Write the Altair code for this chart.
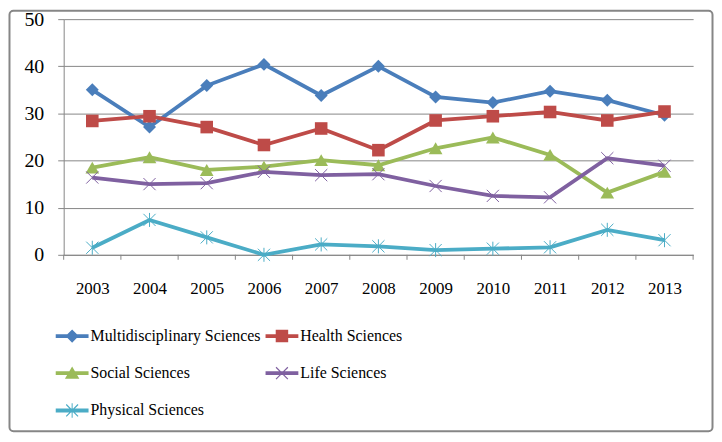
import altair as alt
import pandas as pd

years = [2003, 2004, 2005, 2006, 2007, 2008, 2009, 2010, 2011, 2012, 2013]
series_names = ["Multidisciplinary Sciences", "Health Sciences", "Social Sciences",
                "Life Sciences", "Physical Sciences"]
multidisciplinary = [35.0, 27.1, 35.9, 40.4, 33.8, 40.0, 33.5, 32.3, 34.7, 32.8, 29.6]
health = [28.4, 29.4, 27.1, 23.3, 26.8, 22.2, 28.5, 29.4, 30.3, 28.5, 30.4]
social = [18.5, 20.7, 18.0, 18.7, 20.1, 19.0, 22.6, 24.9, 21.2, 13.2, 17.6]
life = [16.4, 15.0, 15.2, 17.6, 16.9, 17.1, 14.6, 12.5, 12.2, 20.5, 18.9]
physical = [1.5, 7.4, 3.7, 0.0, 2.2, 1.8, 1.0, 1.3, 1.6, 5.3, 3.1]
y_ticks = [0, 10, 20, 30, 40, 50]

colors = ["#4A7EBB", "#BE4B48", "#9BBB59", "#7F60A0", "#4BACC6"]

values = [multidisciplinary, health, social, life, physical]
rows = []
for name, vals in zip(series_names, values):
    for yr, v in zip(years, vals):
        rows.append({"series": name, "year": yr, "value": v})
df = pd.DataFrame(rows)

boundaries = pd.DataFrame({"b": [y - 0.5 for y in years] + [years[-1] + 0.5]})

FONT = "Liberation Serif, Times New Roman, serif"
GRAY = "#868686"

xscale = alt.Scale(domain=[years[0] - 0.5, years[-1] + 0.5], nice=False, zero=False)
yscale = alt.Scale(domain=[0, 50], nice=False)
xaxis = alt.Axis(values=years, format="d", ticks=False, grid=False, domainColor=GRAY,
                 domainWidth=1, labelFont=FONT, labelFontSize=17, labelColor="black",
                 labelPadding=26, labelFlush=False, labelOverlap=False, title=None)
yaxis = alt.Axis(values=y_ticks, grid=True, gridColor=GRAY, gridWidth=1, tickColor=GRAY,
                 tickSize=6, domainColor=GRAY, labelFont=FONT, labelFontSize=20,
                 labelColor="black", labelPadding=14, title=None)

X_PATH = "M-1,-1L1,1M-1,1L1,-1"
AST_PATH = "M-1,-1L1,1M-1,1L1,-1M0,-1.15L0,1.15"
marker_specs = [
    dict(shape="diamond", size=170, filled=True, strokeWidth=0),
    dict(shape="square", size=160, filled=True, strokeWidth=0),
    dict(shape="triangle-up", size=190, filled=True, strokeWidth=0),
    dict(shape=X_PATH, size=150, filled=False, strokeWidth=1),
    dict(shape=AST_PATH, size=150, filled=False, strokeWidth=1),
]

layers = []
for name, col, spec in zip(series_names, colors, marker_specs):
    base = alt.Chart(df).transform_filter(alt.datum.series == name)
    enc = dict(x=alt.X("year:Q", scale=xscale, axis=xaxis),
               y=alt.Y("value:Q", scale=yscale, axis=yaxis))
    layers.append(base.mark_line(color=col, strokeWidth=3.8).encode(**enc))
    layers.append(base.mark_point(color=col, opacity=1, **spec).encode(**enc))

ticks = alt.Chart(boundaries).mark_rule(color=GRAY, strokeWidth=1).encode(
    x=alt.X("b:Q", scale=xscale, axis=xaxis), y=alt.value(237), y2=alt.value(242))

LINE = "M-1,-0.12H1V0.12H-1Z"
XS = ("M-0.335,-0.385L0.385,0.335L0.335,0.385L-0.385,-0.335Z"
      "M-0.385,0.335L0.335,-0.385L0.385,-0.335L-0.335,0.385Z")
legend_paths = [
    LINE + "M0,-0.4L0.4,0L0,0.4L-0.4,0Z",
    LINE + "M-0.38,-0.38H0.38V0.38H-0.38Z",
    LINE + "M0,-0.4L0.44,0.34H-0.44Z",
    LINE + XS,
    LINE + XS + "M-0.03,-0.44H0.03V0.44H-0.03Z",
]
legend = alt.Legend(title=None, orient="none", legendX=-8, legendY=302, columns=2,
                    direction="horizontal",
                    columnPadding=4, rowPadding=12.5, symbolSize=1089, symbolOpacity=1,
                    symbolStrokeWidth=0, labelFont=FONT, labelFontSize=16,
                    labelColor="black", labelOffset=2, labelLimit=400)
legend_layer = alt.Chart(df).transform_filter("false").mark_point(
    filled=True, opacity=1, size=1089).encode(
    color=alt.Color("series:N", scale=alt.Scale(domain=series_names, range=colors), legend=legend),
    shape=alt.Shape("series:N", scale=alt.Scale(domain=series_names, range=legend_paths), legend=legend),
)

frame = alt.Chart(pd.DataFrame({"k": [0]})).mark_rect(
    fill="white", fillOpacity=0, stroke=GRAY, strokeWidth=2, cornerRadius=4).encode(
    x=alt.value(-54.5), x2=alt.value(652.5), y=alt.value(-8.5), y2=alt.value(414.5))

chart = alt.layer(frame, ticks, *layers, legend_layer).properties(
    width=633, height=237,
    autosize=alt.AutoSizeParams(type="none"),
    padding={"left": 56, "top": 10, "right": 21, "bottom": 179},
    background="white",
).configure_view(stroke=None)

chart.save("out.html", embed_options={"renderer": "svg", "actions": False})
